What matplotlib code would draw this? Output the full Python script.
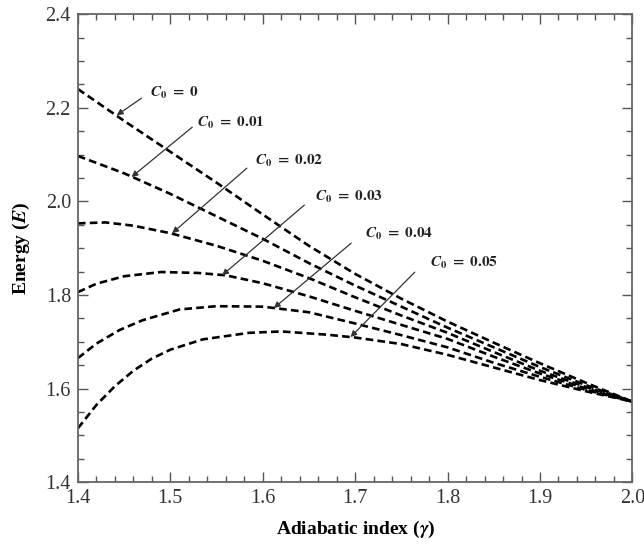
import matplotlib
matplotlib.use("Agg")
import matplotlib.pyplot as plt
from matplotlib.ticker import MultipleLocator

# ---- data ----
g0 = [1.40, 1.45, 1.50, 1.55, 1.60, 1.65, 1.70, 1.75, 1.80, 1.85, 1.90, 1.95, 2.00]
e0 = [2.240, 2.172, 2.106, 2.040, 1.972, 1.905, 1.845, 1.792, 1.743, 1.698, 1.654, 1.612, 1.572]

g1 = [1.40, 1.45, 1.50, 1.55, 1.60, 1.65, 1.70, 1.75, 1.80, 1.85, 1.90, 1.95, 2.00]
e1 = [2.097, 2.060, 2.016, 1.968, 1.920, 1.868, 1.820, 1.775, 1.730, 1.688, 1.646, 1.607, 1.572]

g2 = [1.40, 1.43, 1.46, 1.50, 1.55, 1.60, 1.65, 1.70, 1.75, 1.80, 1.85, 1.90, 1.95, 2.00]
e2 = [1.953, 1.955, 1.948, 1.932, 1.905, 1.873, 1.836, 1.795, 1.756, 1.719, 1.678, 1.638, 1.603, 1.572]

g3 = [1.40, 1.42, 1.45, 1.49, 1.53, 1.56, 1.60, 1.65, 1.70, 1.75, 1.80, 1.85, 1.90, 1.95, 2.00]
e3 = [1.806, 1.824, 1.840, 1.849, 1.847, 1.842, 1.825, 1.797, 1.766, 1.736, 1.706, 1.668, 1.632, 1.600, 1.572]

g4 = [1.40, 1.42, 1.445, 1.47, 1.51, 1.55, 1.60, 1.65, 1.70, 1.75, 1.80, 1.85, 1.90, 1.95, 2.00]
e4 = [1.665, 1.696, 1.725, 1.746, 1.769, 1.776, 1.775, 1.763, 1.739, 1.714, 1.688, 1.655, 1.625, 1.597, 1.572]

g5 = [1.40, 1.42, 1.44, 1.46, 1.48, 1.50, 1.535, 1.585, 1.62, 1.67, 1.70, 1.75, 1.80, 1.85, 1.90, 1.95, 2.00]
e5 = [1.515, 1.565, 1.605, 1.638, 1.664, 1.683, 1.705, 1.719, 1.722, 1.715, 1.709, 1.695, 1.672, 1.645, 1.618, 1.594, 1.572]

labels = [r'$\mathbfit{C}_\mathbf{0}\ \mathbf{=\ 0}$',
          r'$\mathbfit{C}_\mathbf{0}\ \mathbf{=\ 0.01}$',
          r'$\mathbfit{C}_\mathbf{0}\ \mathbf{=\ 0.02}$',
          r'$\mathbfit{C}_\mathbf{0}\ \mathbf{=\ 0.03}$',
          r'$\mathbfit{C}_\mathbf{0}\ \mathbf{=\ 0.04}$',
          r'$\mathbfit{C}_\mathbf{0}\ \mathbf{=\ 0.05}$']

# annotation geometry (arrow tip on curve, arrow tail, text anchor)
tips = [(1.442, 2.184), (1.458, 2.052), (1.502, 1.932), (1.556, 1.842), (1.612, 1.772), (1.695, 1.710)]
tails = [(1.4688, 2.2205), (1.5237, 2.1585), (1.5828, 2.071), (1.645, 1.992), (1.6957, 1.9107), (1.7645, 1.8487)]
texts = [(1.4785, 2.231), (1.529, 2.167), (1.592, 2.086), (1.657, 2.009), (1.711, 1.930), (1.781, 1.868)]

plt.rcParams['mathtext.fontset'] = 'stix'
plt.rcParams['font.family'] = ['Liberation Serif', 'DejaVu Serif']

fig = plt.figure(figsize=(6.44, 5.46), dpi=100)
ax = fig.add_axes([0.121, 0.117, 0.861, 0.857])

for g, e in [(g0, e0), (g1, e1), (g2, e2), (g3, e3), (g4, e4), (g5, e5)]:
    ax.plot(g, e, color='black', lw=1.9, linestyle=(0, (2.9, 1.6)), dash_capstyle='butt')

for lab, tip, tail, tx in zip(labels, tips, tails, texts):
    ax.annotate('', xy=tip, xytext=tail,
                arrowprops=dict(arrowstyle='-|>', color='#333333', lw=0.9,
                                mutation_scale=9, shrinkA=0, shrinkB=0))
    ax.text(tx[0], tx[1], lab, fontsize=11, ha='left', va='center', color='#222222')

ax.set_xlim(1.4, 2.0)
ax.set_ylim(1.4, 2.4)
ax.xaxis.set_major_locator(MultipleLocator(0.1))
ax.xaxis.set_minor_locator(MultipleLocator(0.02))
ax.yaxis.set_major_locator(MultipleLocator(0.2))
ax.yaxis.set_minor_locator(MultipleLocator(0.05))
ax.xaxis.set_major_formatter(plt.FuncFormatter(lambda v, p: f'{v:.1f}'))
ax.yaxis.set_major_formatter(plt.FuncFormatter(lambda v, p: f'{v:.1f}'))

ax.tick_params(which='both', direction='in', top=True, right=True, color='#555555', width=1.0)
ax.tick_params(which='major', length=7, labelsize=14.5, pad=5, labelcolor='#333333')
ax.tick_params(which='minor', length=4)
for s in ax.spines.values():
    s.set_color('#666666')
    s.set_linewidth(1.3)

ax.set_xlabel(r'Adiabatic index ($\mathbfit{\gamma}$)', fontsize=14, fontweight='bold', labelpad=8)
ax.set_ylabel(r'Energy ($\mathbfit{E}$)', fontsize=14, fontweight='bold', labelpad=10)

fig.savefig('out.png', dpi=100)
